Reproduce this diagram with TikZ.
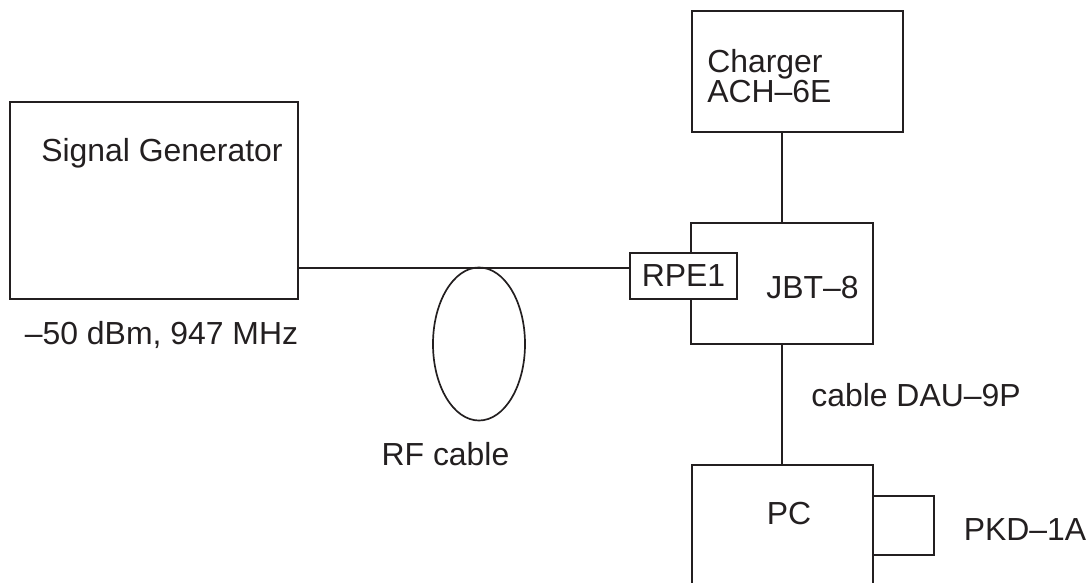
\documentclass[tikz,border=0pt]{standalone}
\usepackage{fontspec}
\setmainfont{Liberation Sans}
\usepackage{tikz}
\usetikzlibrary{positioning,shapes.geometric,calc}
\definecolor{ink}{HTML}{231F20}

\begin{document}
\begin{tikzpicture}[
  x=0.025cm, y=-0.025cm,
  font=\fontsize{22.7}{21.5}\selectfont, text=ink,
  box/.style={draw=ink, line width=1.6pt, inner sep=0pt},
  lbl/.style={inner sep=0pt, align=left},
  wire/.style={draw=ink, line width=1.6pt},
]
\useasboundingbox (0,0) rectangle (1091,583);
\clip (0,0) rectangle (1091,583);
% -- source side
\node[box, minimum width=7.2cm, minimum height=4.925cm] (gen) at (154,200.5) {};
\node[lbl] (gentext) at (162,153) {Signal Generator};
\node[lbl] (level) at (161.5,335) {–50 dBm, 947 MHz};
\node[box, ellipse, minimum width=2.3cm, minimum height=3.825cm, line width=1.2pt] (loop) at (479,344) {};
\node[lbl] (rftext) at (445.5,454) {RF cable};
% -- phone and charger
\node[box, minimum width=5.275cm, minimum height=3.025cm] (charger) at (797.5,71.5) {};
\node[lbl, anchor=west] (chargertext) at (707,76) {Charger\\ACH–6E};
\node[box, minimum width=4.55cm, minimum height=3.025cm] (jbt) at (782,283.5) {};
\node[lbl] (jbttext) at (812.5,287.5) {JBT–8};
\node[box, fill=white, minimum width=2.675cm, minimum height=1.15cm] (rpe) at (683.5,276) {RPE1};
% -- computer
\node[box, minimum width=4.525cm, minimum height=3.5cm] (pc) at (782.5,535) {};
\node[lbl] (pctext) at (789,514) {PC};
\node[box, minimum width=1.525cm, minimum height=1.475cm] (pkd) at (903.5,525.5) {};
\node[lbl] (pkdtext) at (1025,530) {PKD–1A};
\node[lbl] (cabletext) at (916,395) {cable DAU–9P};
% -- connections
\draw[wire] ([yshift=2mm]rpe.west -| gen.east) -- ([yshift=2mm]rpe.west);
\draw[wire] (jbt.north |- charger.south) -- (jbt.north);
\draw[wire] (jbt.south) -- (jbt.south |- pc.north);
\end{tikzpicture}
\end{document}
